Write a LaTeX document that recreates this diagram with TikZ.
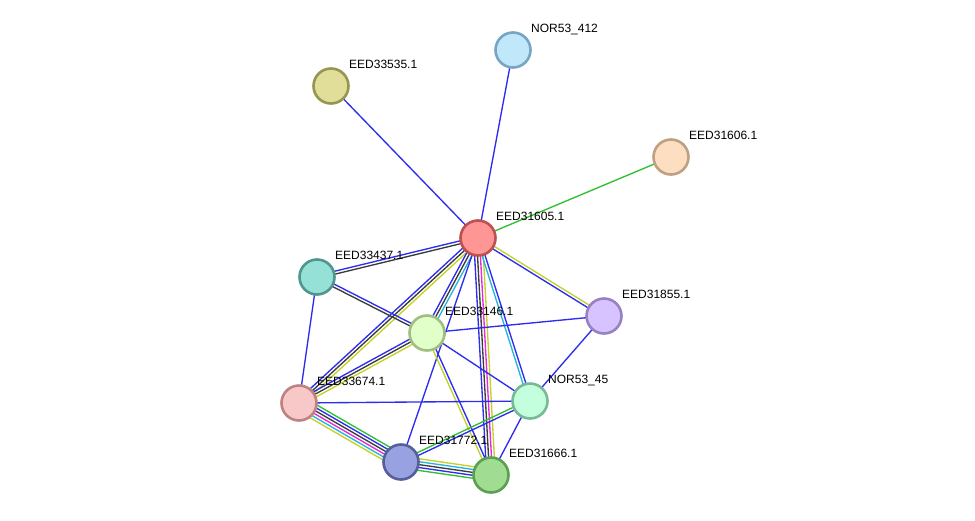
\documentclass[tikz,border=0pt]{standalone}
\usepackage{fontspec}
\setmainfont{Liberation Sans}
\usetikzlibrary{calc,backgrounds}
% edge colours
\definecolor{eb}{RGB}{45,45,240}
\definecolor{ek}{RGB}{60,60,60}
\definecolor{eg}{RGB}{50,190,50}
\definecolor{ey}{RGB}{195,210,40}
\definecolor{em}{RGB}{230,40,220}
\definecolor{ec}{RGB}{40,180,220}
% protein fill / border colours
\definecolor{f31605}{RGB}{255,150,150}\definecolor{b31605}{RGB}{190,80,80}
\definecolor{f33535}{RGB}{224,222,152}\definecolor{b33535}{RGB}{150,150,80}
\definecolor{f412}{RGB}{192,232,250}\definecolor{b412}{RGB}{120,165,195}
\definecolor{f31606}{RGB}{254,222,192}\definecolor{b31606}{RGB}{190,160,130}
\definecolor{f33437}{RGB}{150,225,215}\definecolor{b33437}{RGB}{80,150,140}
\definecolor{f33146}{RGB}{225,255,200}\definecolor{b33146}{RGB}{160,190,130}
\definecolor{f31855}{RGB}{215,195,255}\definecolor{b31855}{RGB}{150,130,195}
\definecolor{f33674}{RGB}{248,200,200}\definecolor{b33674}{RGB}{190,130,130}
\definecolor{f45}{RGB}{195,255,220}\definecolor{b45}{RGB}{120,185,150}
\definecolor{f31772}{RGB}{152,162,225}\definecolor{b31772}{RGB}{85,95,155}
\definecolor{f31666}{RGB}{160,220,145}\definecolor{b31666}{RGB}{90,160,80}
% parallel evidence lines between two proteins: from, to, count, colours
\newcommand{\bundle}[4]{%
  \foreach \col [count=\i] in {#4} {
    \pgfmathsetmacro\off{((#3+1)/2-\i)*2.9}
    \draw[edge,\col] ($(#1)!\off pt!90:(#2)$) -- ($(#2)!\off pt!-90:(#1)$);
  }}

\begin{document}
\begin{tikzpicture}[x=1pt,y=-1pt,
    prot/.style={circle,minimum size=35pt,inner sep=0pt,line width=2.6pt},
    lbl/.style={anchor=base west,inner sep=0pt,font=\fontsize{12}{14}\selectfont},
    edge/.style={line width=1.35pt}]
  \useasboundingbox (0,0) rectangle (975,520);
  % proteins
  \foreach \n/\x/\y/\t in {
      31605/478/238/EED31605.1, 33535/331/86/EED33535.1,
      412/513/50/NOR53\_412, 31606/671/157/EED31606.1,
      33437/317/277/EED33437.1, 33146/427/333/EED33146.1,
      31855/604/316/EED31855.1, 33674/299/403/EED33674.1,
      45/530/401/NOR53\_45, 31772/401/462/EED31772.1,
      31666/491/475/EED31666.1} {
    \node[prot,fill=f\n,draw=b\n] (n\n) at (\x,\y) {};
    \node[lbl] (t\n) at ($(n\n)+(18,-18)$) {\t};
  }
  % interactions
  \begin{scope}[on background layer]
    \bundle{n31605}{n33535}{1}{eb}
    \bundle{n31605}{n412}{1}{eb}
    \bundle{n31605}{n31606}{1}{eg}
    \bundle{n31605}{n33437}{2}{ek,eb}
    \bundle{n31605}{n33674}{3}{ey,ek,eb}
    \bundle{n31605}{n33146}{3}{ec,ek,eb}
    \bundle{n31605}{n31772}{1}{eb}
    \bundle{n31605}{n31666}{4}{ey,em,ek,eb}
    \bundle{n31605}{n45}{2}{eb,ec}
    \bundle{n31605}{n31855}{2}{ey,eb}
    \bundle{n33437}{n33146}{2}{eb,ek}
    \bundle{n33437}{n33674}{1}{eb}
    \bundle{n33146}{n31855}{1}{eb}
    \bundle{n33146}{n33674}{3}{ey,ek,eb}
    \bundle{n33146}{n31666}{2}{eb,ey}
    \bundle{n33146}{n45}{1}{eb}
    \bundle{n33674}{n45}{1}{eb}
    \bundle{n33674}{n31772}{6}{eg,eb,ek,em,ec,ey}
    \bundle{n31772}{n31666}{5}{ey,ec,ek,eb,eg}
    \bundle{n31772}{n45}{2}{eg,eb}
    \bundle{n45}{n31666}{1}{eb}
    \bundle{n45}{n31855}{1}{eb}
  \end{scope}
\end{tikzpicture}
\end{document}
